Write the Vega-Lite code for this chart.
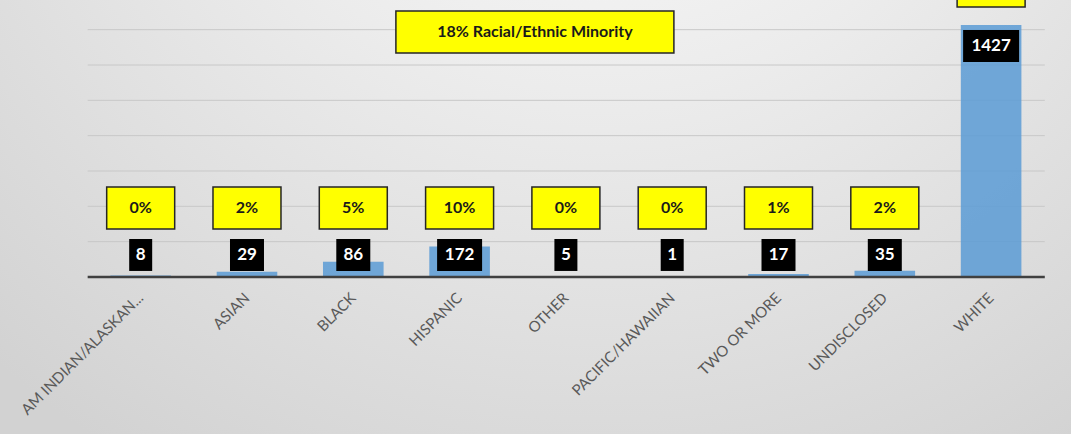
{
  "$schema": "https://vega.github.io/schema/vega-lite/v6.json",
  "width": 1071,
  "height": 434,
  "autosize": "none",
  "padding": 0,
  "background": "#e0e0e0",
  "config": {
    "view": {
      "stroke": null,
      "fill": {
        "gradient": "radial",
        "x1": 0.56, "y1": 0.0, "r1": 0.0,
        "x2": 0.56, "y2": 0.0, "r2": 0.85,
        "stops": [
          {"offset": 0, "color": "#ffffff"},
          {"offset": 0.45, "color": "#ececec"},
          {"offset": 1, "color": "#d2d2d2"}
        ]
      }
    },
    "text": {"font": "Lato"}
  },
  "data": {
    "values": [
      {"category": "AM INDIAN/ALASKAN...", "count": 8, "pct": "0%"},
      {"category": "ASIAN", "count": 29, "pct": "2%"},
      {"category": "BLACK", "count": 86, "pct": "5%"},
      {"category": "HISPANIC", "count": 172, "pct": "10%"},
      {"category": "OTHER", "count": 5, "pct": "0%"},
      {"category": "PACIFIC/HAWAIIAN", "count": 1, "pct": "0%"},
      {"category": "TWO OR MORE", "count": 17, "pct": "1%"},
      {"category": "UNDISCLOSED", "count": 35, "pct": "2%"},
      {"category": "WHITE", "count": 1427, "pct": "80%"}
    ]
  },
  "encoding": {
    "x": {
      "field": "category",
      "type": "nominal",
      "sort": null,
      "scale": {
        "domain": ["AM INDIAN/ALASKAN...", "ASIAN", "BLACK", "HISPANIC", "OTHER", "PACIFIC/HAWAIIAN", "TWO OR MORE", "UNDISCLOSED", "WHITE"],
        "paddingInner": 0.43, "paddingOuter": 0.7525, "align": 0.69
      },
      "axis": {
        "offset": -157,
        "domain": false,
        "ticks": false,
        "grid": false,
        "title": null,
        "labelAngle": -45,
        "labelAlign": "right",
        "labelBaseline": "middle",
        "labelFont": "Lato",
        "labelFontSize": 15,
        "labelColor": "#595959",
        "labelPadding": 18,
        "labelLimit": 0
      }
    }
  },
  "layer": [
    {
      "data": {"values": [{"g": 200}, {"g": 400}, {"g": 600}, {"g": 800}, {"g": 1000}, {"g": 1200}, {"g": 1400}]},
      "mark": {"type": "rule", "color": "#c8c8c8", "strokeWidth": 1},
      "encoding": {
        "x": {"datum": "AM INDIAN/ALASKAN...", "type": "nominal", "bandPosition": -0.375},
        "x2": {"datum": "WHITE", "bandPosition": 1.386},
        "y": {"field": "g", "type": "quantitative", "scale": {"domain": [-889, 1568], "nice": false, "zero": false}, "axis": null}
      }
    },
    {
      "mark": {"type": "bar", "color": "#5B9BD5", "opacity": 0.85},
      "encoding": {
        "y": {"field": "count", "type": "quantitative"}
      }
    },
    {
      "data": {"values": [{"b": 0}]},
      "mark": {"type": "rule", "color": "#404040", "strokeWidth": 2.5},
      "encoding": {
        "x": {"datum": "AM INDIAN/ALASKAN...", "type": "nominal", "bandPosition": -0.375},
        "x2": {"datum": "WHITE", "bandPosition": 1.386},
        "y": {"field": "b", "type": "quantitative"}
      }
    },
    {
      "transform": [{"filter": "datum.category != 'WHITE'"}],
      "mark": {"type": "bar", "color": "#000000", "width": {"expr": "12 + 11 * length(toString(datum.count))"}},
      "encoding": {
        "y": {"datum": 215},
        "y2": {"datum": 34}
      }
    },
    {
      "transform": [{"filter": "datum.category == 'WHITE'"}],
      "mark": {"type": "bar", "color": "#000000", "width": {"expr": "12 + 11 * length(toString(datum.count))"}},
      "encoding": {
        "y": {"datum": 1398},
        "y2": {"datum": 1217}
      }
    },
    {
      "transform": [{"filter": "datum.category != 'WHITE'"}],
      "mark": {"type": "text", "color": "#ffffff", "fontWeight": "bold", "fontSize": 17, "baseline": "middle", "font": "Lato"},
      "encoding": {
        "y": {"datum": 124.5},
        "text": {"field": "count", "type": "quantitative"}
      }
    },
    {
      "transform": [{"filter": "datum.category == 'WHITE'"}],
      "mark": {"type": "text", "color": "#ffffff", "fontWeight": "bold", "fontSize": 17, "baseline": "middle", "font": "Lato"},
      "encoding": {
        "y": {"datum": 1307},
        "text": {"field": "count", "type": "quantitative"}
      }
    },
    {
      "transform": [{"filter": "datum.category != 'WHITE'"}],
      "mark": {"type": "bar", "color": "#FFFF00", "stroke": "#262626", "strokeWidth": 1.5, "width": 68},
      "encoding": {
        "y": {"datum": 510},
        "y2": {"datum": 272}
      }
    },
    {
      "transform": [{"filter": "datum.category == 'WHITE'"}],
      "mark": {"type": "bar", "color": "#FFFF00", "stroke": "#262626", "strokeWidth": 1.5, "width": 68},
      "encoding": {
        "y": {"datum": 1766},
        "y2": {"datum": 1528}
      }
    },
    {
      "transform": [{"filter": "datum.category != 'WHITE'"}],
      "mark": {"type": "text", "color": "#1a1a1a", "fontWeight": "bold", "fontSize": 16, "baseline": "middle", "font": "Lato"},
      "encoding": {
        "y": {"datum": 391},
        "text": {"field": "pct", "type": "nominal"}
      }
    },
    {
      "data": {"values": [{"label": "18% Racial/Ethnic Minority"}]},
      "mark": {"type": "bar", "color": "#FFFF00", "stroke": "#262626", "strokeWidth": 1.5, "width": 278, "xOffset": -31},
      "encoding": {
        "x": {"datum": "OTHER", "type": "nominal"},
        "y": {"datum": 1506},
        "y2": {"datum": 1268}
      }
    },
    {
      "data": {"values": [{"label": "18% Racial/Ethnic Minority"}]},
      "mark": {"type": "text", "color": "#1a1a1a", "fontWeight": "bold", "fontSize": 16, "baseline": "middle", "font": "Lato", "dx": -31},
      "encoding": {
        "x": {"datum": "OTHER", "type": "nominal"},
        "y": {"datum": 1387},
        "text": {"field": "label", "type": "nominal"}
      }
    }
  ]
}
